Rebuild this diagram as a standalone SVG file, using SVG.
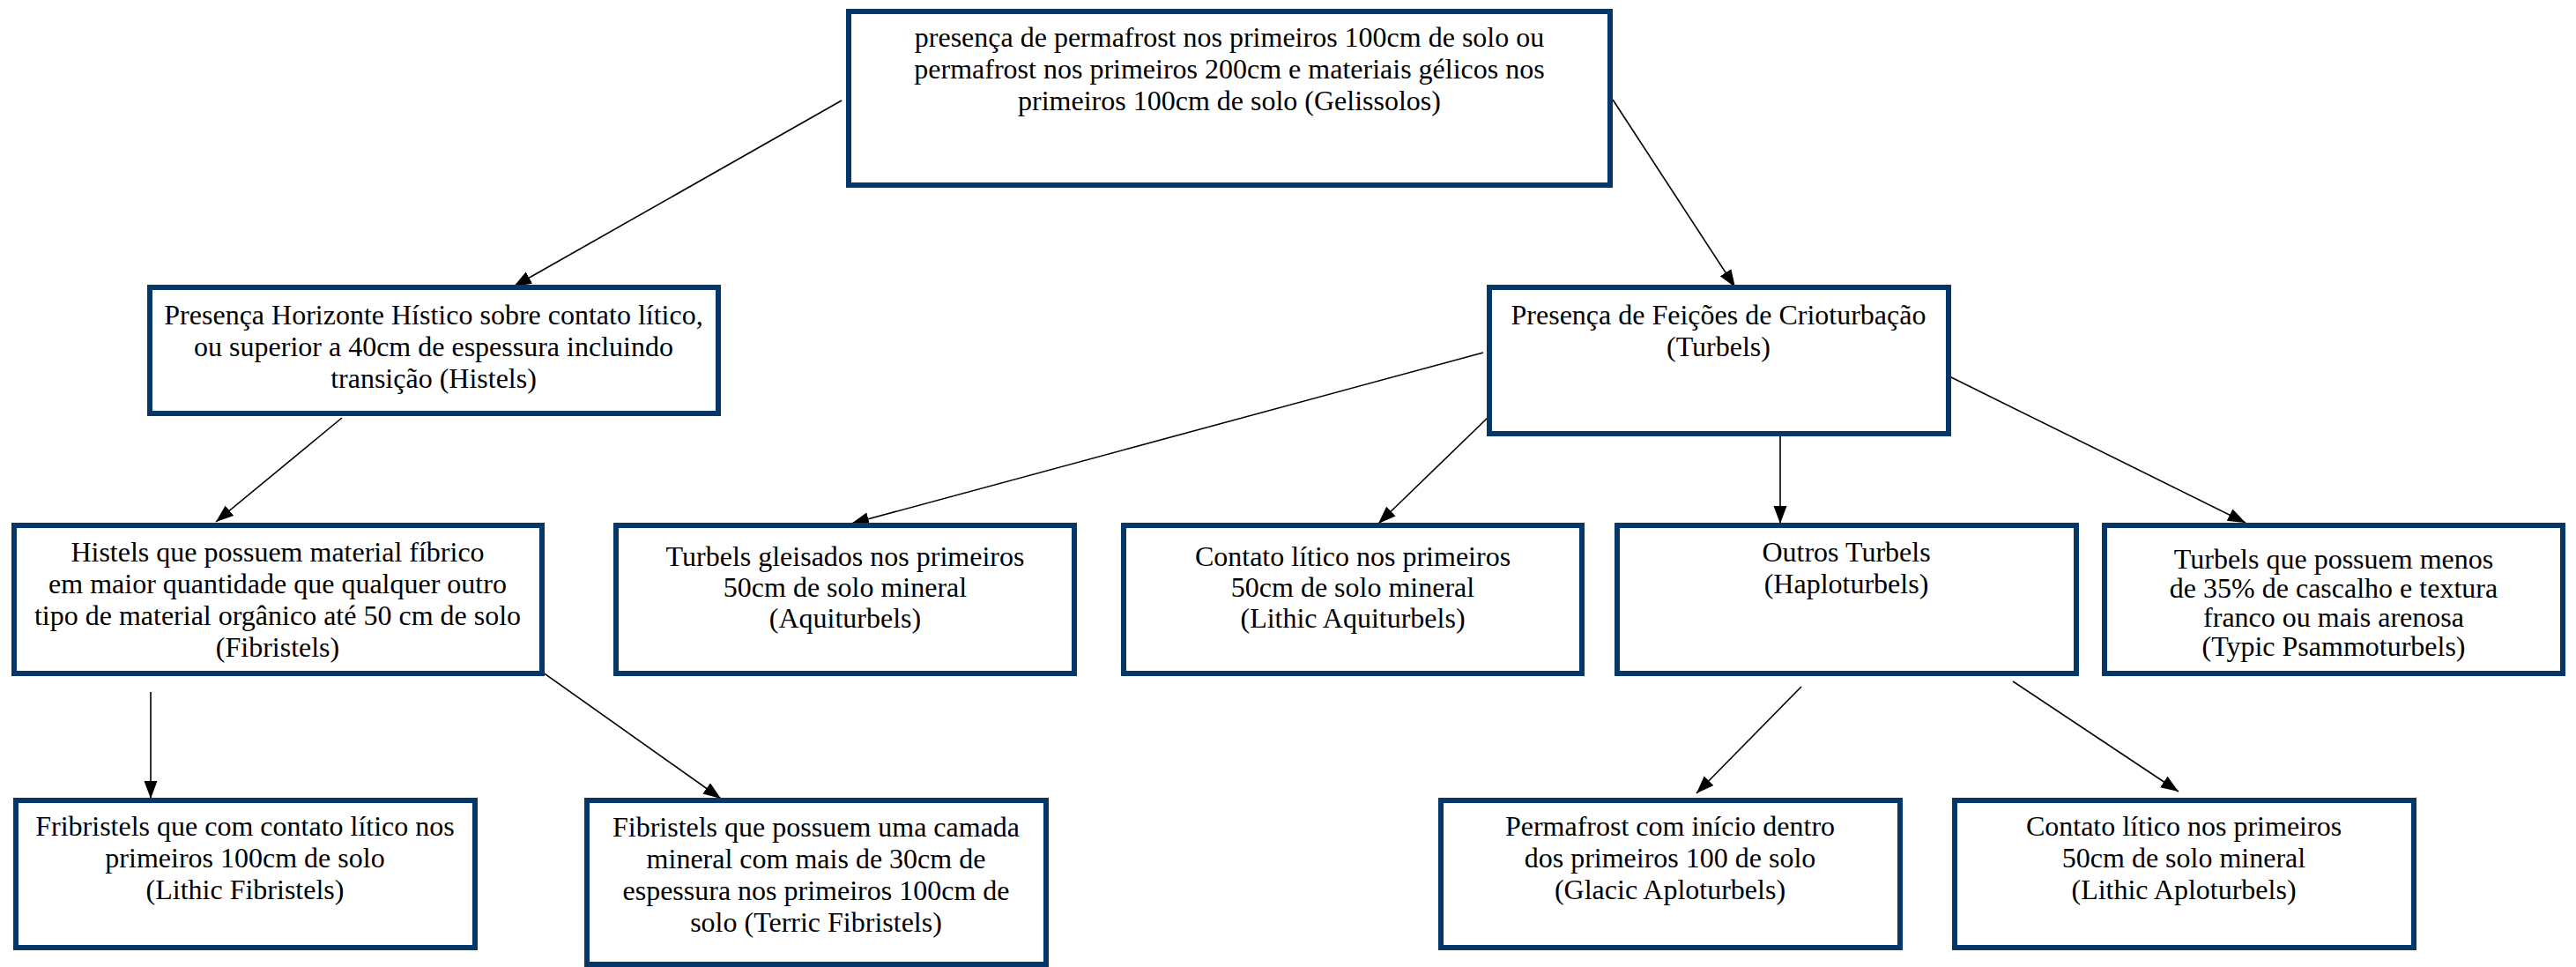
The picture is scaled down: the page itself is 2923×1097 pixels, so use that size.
<svg xmlns="http://www.w3.org/2000/svg" width="2923" height="1097" viewBox="0 0 2923 1097">
<style>
.box{fill:#ffffff;stroke:#073769;stroke-width:6}
.t{font-family:"Liberation Serif","Times New Roman",serif;font-size:32px;fill:#000;text-anchor:middle}
.c{stroke:#000;stroke-width:1.6;fill:none;marker-end:url(#ah)}
</style>
<defs>
<marker id="ah" markerUnits="userSpaceOnUse" markerWidth="22" markerHeight="16" refX="20" refY="7.5" orient="auto">
<path d="M0,0 L20,7.5 L0,15 z" fill="#000"/>
</marker>
</defs>
<rect width="2923" height="1097" fill="#fff"/>
<g id="connectors">
<line class="c" x1="955" y1="114" x2="583" y2="325"/>
<line class="c" x1="1830" y1="113" x2="1969" y2="326"/>
<line class="c" x1="388" y1="474" x2="245" y2="592"/>
<line class="c" x1="612" y1="760" x2="818" y2="906"/>
<line class="c" x1="171" y1="785" x2="171" y2="906"/>
<line class="c" x1="1683" y1="400" x2="966" y2="594"/>
<line class="c" x1="1690" y1="472" x2="1564" y2="594"/>
<line class="c" x1="2020" y1="495" x2="2020" y2="594"/>
<line class="c" x1="2212" y1="427" x2="2548" y2="593"/>
<line class="c" x1="2044" y1="779" x2="1925" y2="900"/>
<line class="c" x1="2284" y1="773" x2="2472" y2="898"/>
</g>
<g id="n-gelissolos">
<rect class="box" x="963" y="13" width="864" height="197"/>
<text class="t"><tspan x="1395" y="53">presença de permafrost nos primeiros 100cm de solo ou</tspan><tspan x="1395" y="89">permafrost nos primeiros 200cm e materiais gélicos nos</tspan><tspan x="1395" y="125">primeiros 100cm de solo (Gelissolos)</tspan></text>
</g>
<g id="n-histels">
<rect class="box" x="170" y="326" width="645" height="143"/>
<text class="t"><tspan x="492" y="368">Presença Horizonte Hístico sobre contato lítico,</tspan><tspan x="492" y="404">ou superior a 40cm de espessura incluindo</tspan><tspan x="492" y="440">transição (Histels)</tspan></text>
</g>
<g id="n-turbels">
<rect class="box" x="1690" y="326" width="521" height="166"/>
<text class="t"><tspan x="1950" y="368">Presença de Feições de Crioturbação</tspan><tspan x="1950" y="404">(Turbels)</tspan></text>
</g>
<g id="n-fibristels">
<rect class="box" x="16" y="596" width="599" height="168"/>
<text class="t"><tspan x="315" y="637">Histels que possuem material fíbrico</tspan><tspan x="315" y="673">em maior quantidade que qualquer outro</tspan><tspan x="315" y="709">tipo de material orgânico até 50 cm de solo</tspan><tspan x="315" y="745">(Fibristels)</tspan></text>
</g>
<g id="n-aquiturbels">
<rect class="box" x="699" y="596" width="520" height="168"/>
<text class="t"><tspan x="959" y="642">Turbels gleisados nos primeiros</tspan><tspan x="959" y="677">50cm de solo mineral</tspan><tspan x="959" y="712">(Aquiturbels)</tspan></text>
</g>
<g id="n-lithic-aquiturbels">
<rect class="box" x="1275" y="596" width="520" height="168"/>
<text class="t"><tspan x="1535" y="642">Contato lítico nos primeiros</tspan><tspan x="1535" y="677">50cm de solo mineral</tspan><tspan x="1535" y="712">(Lithic Aquiturbels)</tspan></text>
</g>
<g id="n-haploturbels">
<rect class="box" x="1835" y="596" width="521" height="168"/>
<text class="t"><tspan x="2095" y="637">Outros Turbels</tspan><tspan x="2095" y="673">(Haploturbels)</tspan></text>
</g>
<g id="n-psammoturbels">
<rect class="box" x="2388" y="596" width="520" height="168"/>
<text class="t"><tspan x="2648" y="645">Turbels que possuem menos</tspan><tspan x="2648" y="678">de 35% de cascalho e textura</tspan><tspan x="2648" y="711">franco ou mais arenosa</tspan><tspan x="2648" y="744">(Typic Psammoturbels)</tspan></text>
</g>
<g id="n-lithic-fibristels">
<rect class="box" x="18" y="908" width="521" height="167"/>
<text class="t"><tspan x="278" y="948">Fribristels que com contato lítico nos</tspan><tspan x="278" y="984">primeiros 100cm de solo</tspan><tspan x="278" y="1020">(Lithic Fibristels)</tspan></text>
</g>
<g id="n-terric-fibristels">
<rect class="box" x="666" y="908" width="521" height="186"/>
<text class="t"><tspan x="926" y="949">Fibristels que possuem uma camada</tspan><tspan x="926" y="985">mineral com mais de 30cm de</tspan><tspan x="926" y="1021">espessura nos primeiros 100cm de</tspan><tspan x="926" y="1057">solo (Terric Fibristels)</tspan></text>
</g>
<g id="n-glacic">
<rect class="box" x="1635" y="908" width="521" height="167"/>
<text class="t"><tspan x="1895" y="948">Permafrost com início dentro</tspan><tspan x="1895" y="984">dos primeiros 100 de solo</tspan><tspan x="1895" y="1020">(Glacic Aploturbels)</tspan></text>
</g>
<g id="n-lithic-aploturbels">
<rect class="box" x="2218" y="908" width="521" height="167"/>
<text class="t"><tspan x="2478" y="948">Contato lítico nos primeiros</tspan><tspan x="2478" y="984">50cm de solo mineral</tspan><tspan x="2478" y="1020">(Lithic Aploturbels)</tspan></text>
</g>
</svg>
